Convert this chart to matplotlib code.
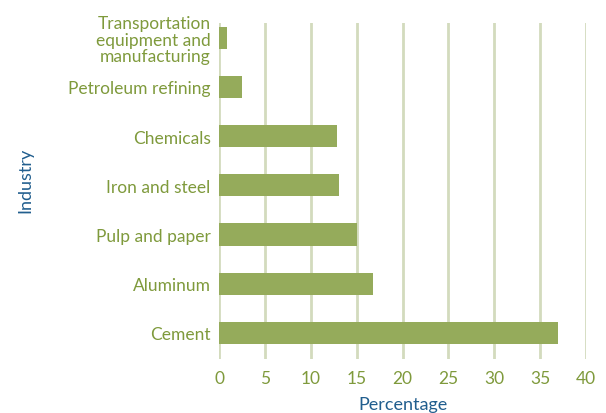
import matplotlib
matplotlib.use('Agg')
import matplotlib.pyplot as plt

plt.rcParams['font.family'] = ['Lato', 'DejaVu Sans']

# 数据
industries = ['Cement', 'Aluminum', 'Pulp and paper', 'Iron and steel',
              'Chemicals', 'Petroleum refining',
              'Transportation\nequipment and\nmanufacturing']
percentages = [37.0, 16.8, 15.0, 13.1, 12.9, 2.5, 0.9]

bar_color = '#95ab5b'
grid_color = '#d3dbbd'
tick_color = '#7f9a3c'
label_color = '#215e8e'

fig = plt.figure(figsize=(6.06, 4.14), dpi=100)
ax = fig.add_axes([0.3614, 0.1304, 0.6056, 0.8116])

ypos = list(range(len(industries)))
ax.barh(ypos, percentages, height=0.45, color=bar_color, zorder=3)

ax.set_xlim(0, 40)
ax.set_ylim(-0.53, 6.3)
ax.set_xticks(range(0, 41, 5))
ax.set_yticks(ypos)
ax.set_yticklabels(industries, linespacing=1.05)

# 网格线
ax.grid(axis='x', color=grid_color, linewidth=2, zorder=0)
ax.grid(axis='y', visible=False)
for s in ax.spines.values():
    s.set_visible(False)

ax.tick_params(axis='both', length=0, labelsize=12.5, colors=tick_color)
ax.tick_params(axis='y', pad=6)
ax.tick_params(axis='x', pad=8)

ax.set_xlabel('Percentage', fontsize=13, color=label_color, labelpad=7)
fig.text(25 / 606, 1 - 180 / 414, 'Industry', rotation=90, ha='center', va='center',
         fontsize=13, color=label_color)

fig.savefig('out.png', dpi=100)
